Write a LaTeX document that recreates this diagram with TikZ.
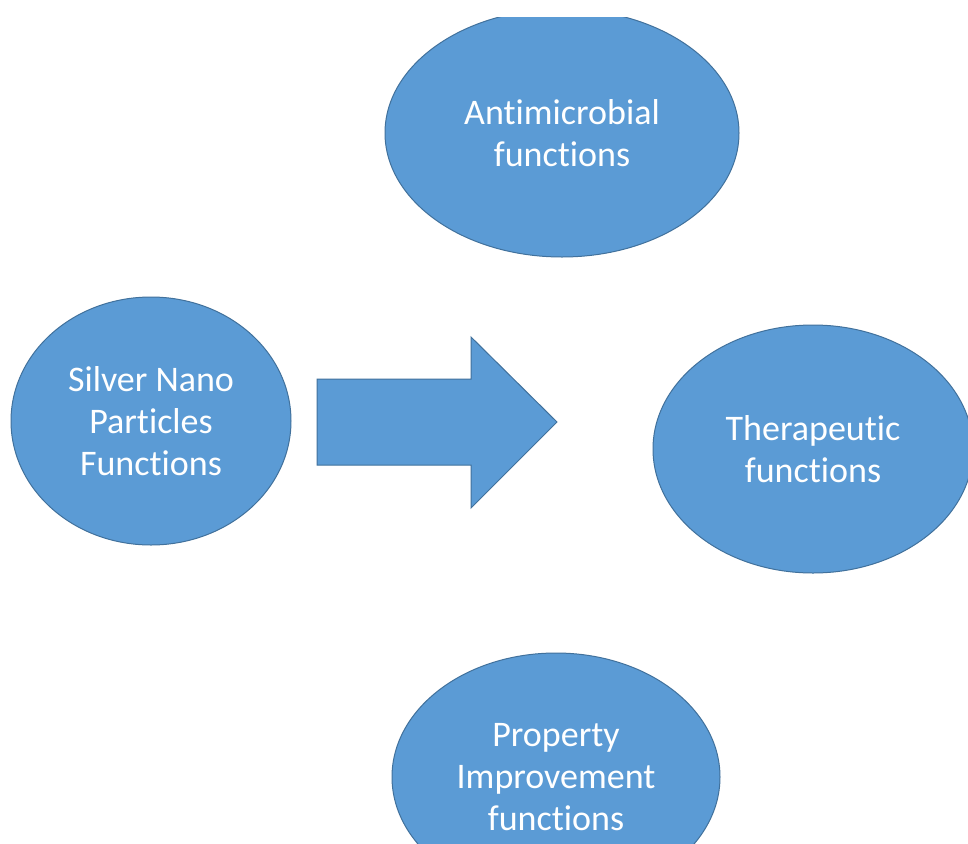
\documentclass[tikz,border=0pt]{standalone}
\usepackage{fontspec}
\setmainfont{Carlito}[Ligatures={NoCommon}]
\usetikzlibrary{shapes.geometric}

\begin{document}
\begin{tikzpicture}[x=0.75pt, y=-0.75pt]
		% Defines colors to match the image
		\definecolor{bubblefill}{RGB}{91, 155, 213}  % Office blue
		\definecolor{bubbleline}{RGB}{65, 113, 156}  % Darker blue outline
		
		\tikzset{
			bubble/.style={ellipse, draw=bubbleline, fill=bubblefill, line width=0.75pt,
				inner sep=0pt, text=white, align=center,
				font=\fontsize{27}{31.5}\selectfont}
		}
		
		% --- Page ---
		\useasboundingbox (0,0) rectangle (968,843);
		\fill[white] (0,0) rectangle (968,843);
		
		\begin{scope}
			% The shapes are cut off at the edges of the page
			\clip (0,17) rectangle (968,843);
			
			% --- Bubbles ---
			\node[bubble, minimum width=265.5pt, minimum height=186pt] (anti) at (562,133) {Antimicrobial\\functions};
			\node[bubble, minimum width=210pt, minimum height=186pt] (silver) at (151,421) {Silver Nano\\Particles\\Functions};
			\node[bubble, minimum width=240pt, minimum height=186pt] (thera) at (813,449) {Therapeutic\\functions};
			\node[bubble, minimum width=246pt, minimum height=186pt] (prop) at (556,777) {Property\\Improvement\\functions};
			
			% --- Block arrow ---
			\filldraw[fill=bubblefill, draw=bubbleline, line width=0.75pt]
				(317,379) -- (471,379) -- (471,337) -- (557,422)
				-- (471,508) -- (471,465) -- (317,465) -- cycle;
		\end{scope}
		
	\end{tikzpicture}
\end{document}
